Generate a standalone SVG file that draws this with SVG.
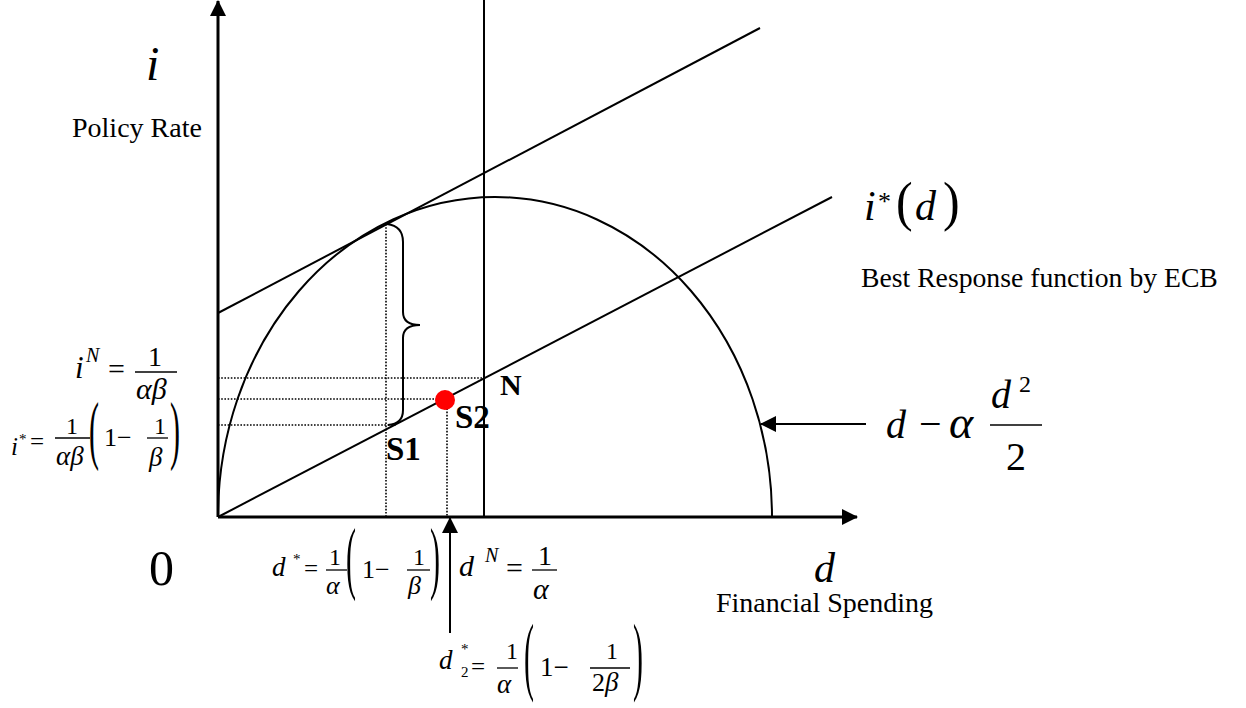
<svg xmlns="http://www.w3.org/2000/svg" width="1246" height="708" viewBox="0 0 1246 708">
<style>
.t{font-family:"Liberation Serif","Times New Roman",serif;fill:#000}
.i{font-style:italic}
.b{font-weight:bold}
.ln{stroke:#000;stroke-width:2;fill:none}
.ax{stroke:#000;stroke-width:3;fill:none}
.dot{stroke:#000;stroke-width:1.6;stroke-dasharray:1.6 1.6;fill:none}
.bar{stroke:#000;stroke-width:1.3}
</style>
<defs>
<marker id="ah" viewBox="0 0 16 16" refX="15" refY="8" markerWidth="16" markerHeight="16" orient="auto" markerUnits="userSpaceOnUse">
<path d="M0,0 L16,8 L0,16 z" fill="#000"/>
</marker>
</defs>
<rect width="1246" height="708" fill="#fff"/>
<g id="connectors">
<line class="ax" x1="218" y1="517" x2="218" y2="1" marker-end="url(#ah)"/>
<line class="ax" x1="218" y1="517" x2="857" y2="517" marker-end="url(#ah)"/>
<path class="ln" d="M218,517 A277,320 0 0 1 772,517"/>
<line class="ln" x1="218" y1="313" x2="760" y2="28"/>
<line class="ln" x1="218" y1="517" x2="832" y2="197"/>
<line class="ln" x1="484" y1="0" x2="484" y2="517"/>
<line class="dot" x1="218" y1="378" x2="484" y2="378"/>
<line class="dot" x1="218" y1="399" x2="440" y2="399"/>
<line class="dot" x1="218" y1="425" x2="396" y2="425"/>
<line class="dot" x1="386" y1="224" x2="386" y2="517"/>
<line class="dot" x1="447" y1="402" x2="447" y2="517"/>
<path class="ln" d="M387,224 Q403,226 403,242 L403,312 Q403,325 420,325 Q403,325 403,338 L403,410 Q403,424 388,425"/>
<line class="ln" x1="450" y1="633" x2="450" y2="518" marker-end="url(#ah)"/>
<line class="ln" x1="866" y1="424" x2="761" y2="424" marker-end="url(#ah)"/>
</g>
<g id="point-S2"><circle cx="445" cy="400" r="10" fill="#ff0000"/></g>
<g id="axis-labels">
<text class="t i" x="146" y="80" font-size="48">i</text>
<text class="t" x="72" y="137" font-size="28">Policy Rate</text>
<text class="t" x="149" y="585" font-size="50">0</text>
<text class="t i" x="814" y="582" font-size="42">d</text>
<text class="t" x="716" y="612" font-size="28">Financial Spending</text>
</g>
<g id="point-labels">
<text class="t b" x="386" y="460" font-size="33">S1</text>
<text class="t b" x="455" y="428" font-size="33">S2</text>
<text class="t b" x="500" y="395" font-size="30">N</text>
</g>
<g id="formula-iN">
<text class="t i" x="75" y="378" font-size="31">i</text>
<text class="t i" x="86" y="362" font-size="20">N</text>
<text class="t" x="108" y="379" font-size="30">=</text>
<text class="t" x="148" y="366" font-size="28">1</text>
<line class="bar" x1="135" y1="372" x2="177" y2="372"/>
<text class="t i" x="136" y="399" font-size="30">αβ</text>
</g>
<g id="formula-istar">
<text class="t i" x="11" y="455" font-size="25">i</text>
<text class="t" x="19" y="444" font-size="15">*</text>
<text class="t" x="30" y="450" font-size="25">=</text>
<text class="t" x="66" y="434" font-size="24">1</text>
<line class="bar" x1="55" y1="438" x2="90" y2="438"/>
<text class="t i" x="56" y="465" font-size="27">αβ</text>
<text class="t" transform="translate(89,455) scale(1,2.55)" font-size="30">(</text>
<text class="t" x="104" y="446" font-size="26">1−</text>
<text class="t" x="154" y="434" font-size="24">1</text>
<line class="bar" x1="147" y1="438" x2="168" y2="438"/>
<text class="t i" x="149" y="466" font-size="27">β</text>
<text class="t" transform="translate(170,455) scale(1,2.55)" font-size="30">)</text>
</g>
<g id="formula-dstar">
<text class="t i" x="272" y="576" font-size="27">d</text>
<text class="t" x="293" y="564" font-size="15">*</text>
<text class="t" x="304" y="577" font-size="25">=</text>
<text class="t" x="329" y="565" font-size="24">1</text>
<line class="bar" x1="326" y1="570" x2="347" y2="570"/>
<text class="t i" x="326" y="594" font-size="26">α</text>
<text class="t" transform="translate(346,584) scale(1,2.7)" font-size="30">(</text>
<text class="t" x="362" y="578" font-size="26">1−</text>
<text class="t" x="413" y="565" font-size="24">1</text>
<line class="bar" x1="407" y1="570" x2="430" y2="570"/>
<text class="t i" x="408" y="594" font-size="26">β</text>
<text class="t" transform="translate(430,584) scale(1,2.7)" font-size="30">)</text>
</g>
<g id="formula-dN">
<text class="t i" x="459" y="576" font-size="30">d</text>
<text class="t i" x="485" y="562" font-size="20">N</text>
<text class="t" x="506" y="578" font-size="30">=</text>
<text class="t" x="538" y="565" font-size="28">1</text>
<line class="bar" x1="532" y1="570" x2="557" y2="570"/>
<text class="t i" x="533" y="599" font-size="30">α</text>
</g>
<g id="formula-d2star">
<text class="t i" x="439" y="669" font-size="27">d</text>
<text class="t" x="461" y="654" font-size="15">*</text>
<text class="t" x="461" y="677" font-size="15">2</text>
<text class="t" x="471" y="675" font-size="25">=</text>
<text class="t" x="506" y="659" font-size="24">1</text>
<line class="bar" x1="497" y1="668" x2="518" y2="668"/>
<text class="t i" x="497" y="693" font-size="27">α</text>
<text class="t" transform="translate(524,684) scale(1,2.9)" font-size="30">(</text>
<text class="t" x="540" y="676" font-size="27">1−</text>
<text class="t" x="606" y="659" font-size="24">1</text>
<line class="bar" x1="590" y1="668" x2="630" y2="668"/>
<text class="t" x="592" y="691" font-size="26">2<tspan class="i" font-size="27">β</tspan></text>
<text class="t" transform="translate(633,684) scale(1,2.9)" font-size="30">)</text>
</g>
<g id="label-best-response">
<text class="t i" x="864" y="220" font-size="42">i</text>
<text class="t" x="878" y="210" font-size="26">*</text>
<text class="t" transform="translate(896,220) scale(1,1.1)" font-size="50">(</text>
<text class="t i" x="915" y="220" font-size="42">d</text>
<text class="t" transform="translate(943,220) scale(1,1.1)" font-size="50">)</text>
<text class="t" x="861" y="287" font-size="27.7">Best Response function by ECB</text>
</g>
<g id="label-curve">
<text class="t i" x="886" y="438" font-size="40">d</text>
<text class="t" x="919" y="437" font-size="40">−</text>
<text class="t i" x="949" y="438" font-size="46">α</text>
<text class="t i" x="991" y="408" font-size="40">d</text>
<text class="t" x="1019" y="392" font-size="24">2</text>
<line class="bar" x1="990" y1="425" x2="1042" y2="425"/>
<text class="t" x="1006" y="470" font-size="40">2</text>
</g>
</svg>
